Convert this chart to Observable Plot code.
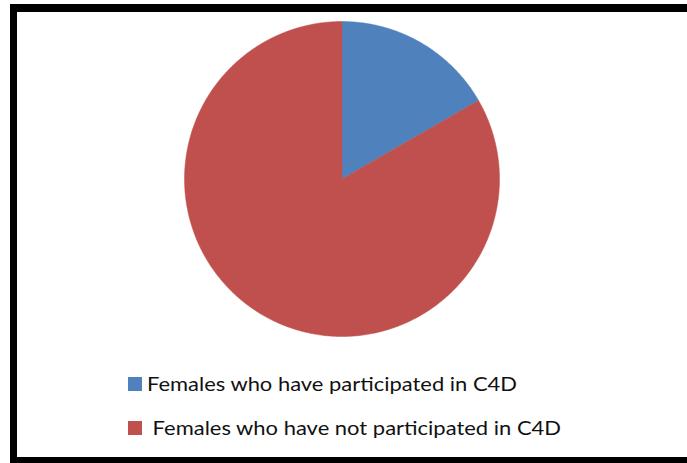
<!DOCTYPE html>
<html>
<head>
<meta charset="utf-8">
<script src="https://cdn.jsdelivr.net/npm/d3@7"></script>
<script src="https://cdn.jsdelivr.net/npm/@observablehq/plot@0.6"></script>
<style>
  html, body { margin: 0; padding: 0; background: #fff; }
  #wrap { position: relative; width: 687px; height: 463px; overflow: hidden; background: #fff; }
  #wrap > svg { position: absolute; left: 0; top: 0; }
</style>
</head>
<body>
<div id="wrap"></div>
<script>
// Data
const categories = ["Females who have participated in C4D", "Females who have not participated in C4D"];
const values = [16.7, 83.3];
const colors = ["#4F81BD", "#C0504D"];
const legendLabels = ["Females who have participated in C4D", " Females who have not participated in C4D"];

// Build slice polygons from pie angles (clockwise from 12 o'clock)
const pie = d3.pie().sort(null).value(d => d.value);
const arcs = pie(categories.map((c, i) => ({category: c, value: values[i]})));
const pts = [];
arcs.forEach(a => {
  const n = Math.max(2, Math.ceil((a.endAngle - a.startAngle) / 0.01));
  pts.push({category: a.data.category, x: 0, y: 0});
  for (let k = 0; k <= n; k++) {
    const t = a.startAngle + (a.endAngle - a.startAngle) * k / n;
    pts.push({category: a.data.category, x: Math.sin(t), y: Math.cos(t)});
  }
  pts.push({category: a.data.category, x: 0, y: 0});
});

const W = 687, H = 463;
const chart = Plot.plot({
  width: W,
  height: H,
  marginLeft: 184,
  marginRight: 188,
  marginTop: 21,
  marginBottom: 127,
  x: {domain: [-1, 1], axis: null},
  y: {domain: [-1, 1], axis: null},
  color: {domain: categories, range: colors},
  style: {background: "transparent", overflow: "visible"},
  marks: [
    Plot.line(pts, {x: "x", y: "y", z: "category", fill: "category", stroke: "category", strokeWidth: 0.5, curve: "linear"})
  ]
});
const wrap = document.getElementById("wrap");
wrap.appendChild(chart);

// Overlay: frame and legend
const svg = d3.select(wrap).append("svg").attr("width", W).attr("height", H);
// frame (top, left, bottom black bars)
svg.append("rect").attr("x", 10).attr("y", 4).attr("width", W - 10).attr("height", 8).attr("fill", "#000");
svg.append("rect").attr("x", 10).attr("y", 4).attr("width", 7).attr("height", H - 4).attr("fill", "#000");
svg.append("rect").attr("x", 10).attr("y", 457).attr("width", W - 10).attr("height", 6).attr("fill", "#000");

const legendRows = [
  {sq: 377, base: 391, tx: 147, tw: 370},
  {sq: 421, base: 435, tx: 147, tw: 414}
];
legendRows.forEach((r, i) => {
  svg.append("rect").attr("x", 128).attr("y", r.sq).attr("width", 14).attr("height", 14).attr("fill", colors[i]);
  svg.append("text")
    .attr("x", r.tx).attr("y", r.base)
    .attr("font-family", "Lato, 'Open Sans', sans-serif")
    .attr("font-size", 20)
    .attr("fill", "#111")
    .attr("xml:space", "preserve")
    .style("white-space", "pre")
    .attr("textLength", r.tw)
    .attr("lengthAdjust", "spacingAndGlyphs")
    .text(legendLabels[i]);
});
</script>
</body>
</html>
